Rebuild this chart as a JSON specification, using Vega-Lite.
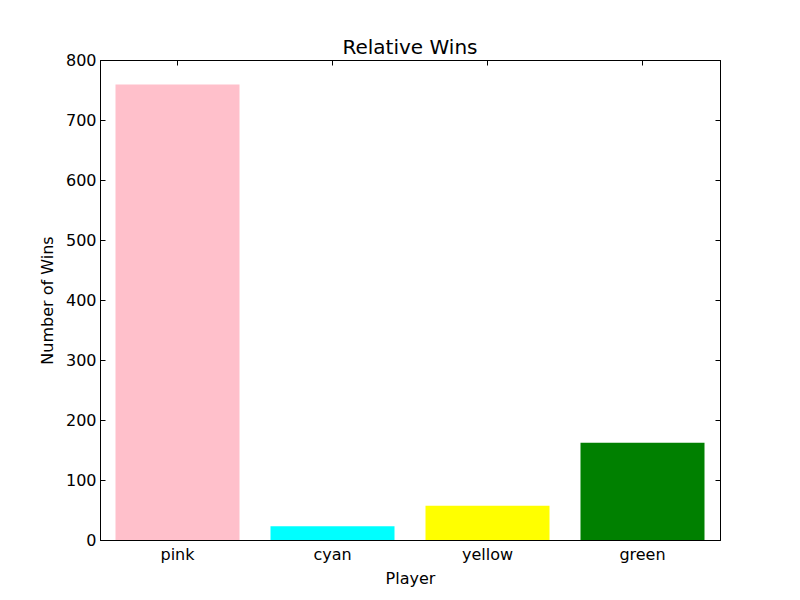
{
  "$schema": "https://vega.github.io/schema/vega-lite/v6.json",
  "width": 620,
  "height": 480,
  "autosize": {"type": "none"},
  "padding": {"left": 100, "top": 60, "right": 80, "bottom": 60},
  "background": "white",
  "title": {
    "text": "Relative Wins",
    "font": "DejaVu Sans",
    "fontSize": 20,
    "fontWeight": "normal",
    "color": "black",
    "offset": -6
  },
  "data": {
    "values": [
      {"Player": "pink", "Wins": 759},
      {"Player": "cyan", "Wins": 23},
      {"Player": "yellow", "Wins": 57},
      {"Player": "green", "Wins": 162}
    ]
  },
  "layer": [
    {
      "mark": {"type": "bar"},
      "encoding": {
        "x": {
          "field": "Player",
          "type": "nominal",
          "sort": null,
          "scale": {"paddingInner": 0.2, "paddingOuter": 0.1},
          "axis": {
            "title": "Player",
            "labelAngle": 0,
            "tickSize": -5,
            "labelPadding": 11,
            "titlePadding": 8
          }
        },
        "y": {
          "field": "Wins",
          "type": "quantitative",
          "scale": {"domain": [0, 800], "nice": false},
          "axis": {
            "title": "Number of Wins",
            "values": [0, 100, 200, 300, 400, 500, 600, 700, 800],
            "tickSize": -5,
            "labelPadding": 9,
            "titlePadding": 10,
            "grid": false
          }
        },
        "color": {
          "field": "Player",
          "type": "nominal",
          "scale": {
            "domain": ["pink", "cyan", "yellow", "green"],
            "range": ["#ffc0cb", "#00ffff", "#ffff00", "#008000"]
          },
          "legend": null
        }
      }
    },
    {
      "mark": {"type": "bar", "opacity": 0},
      "encoding": {
        "x": {
          "field": "Player",
          "type": "nominal",
          "sort": null,
          "axis": {"orient": "top", "labels": false, "title": null, "tickSize": -5}
        },
        "y": {
          "field": "Wins",
          "type": "quantitative",
          "axis": {
            "orient": "right",
            "labels": false,
            "title": null,
            "values": [0, 100, 200, 300, 400, 500, 600, 700, 800],
            "tickSize": -5,
            "grid": false
          }
        }
      }
    }
  ],
  "resolve": {"axis": {"x": "independent", "y": "independent"}},
  "config": {
    "view": {"stroke": "black", "strokeWidth": 1},
    "axis": {
      "labelFont": "DejaVu Sans",
      "labelFontSize": 16,
      "labelColor": "black",
      "titleFont": "DejaVu Sans",
      "titleFontSize": 16,
      "titleFontWeight": "normal",
      "titleColor": "black",
      "domainColor": "black",
      "tickColor": "black",
      "grid": false
    }
  }
}
